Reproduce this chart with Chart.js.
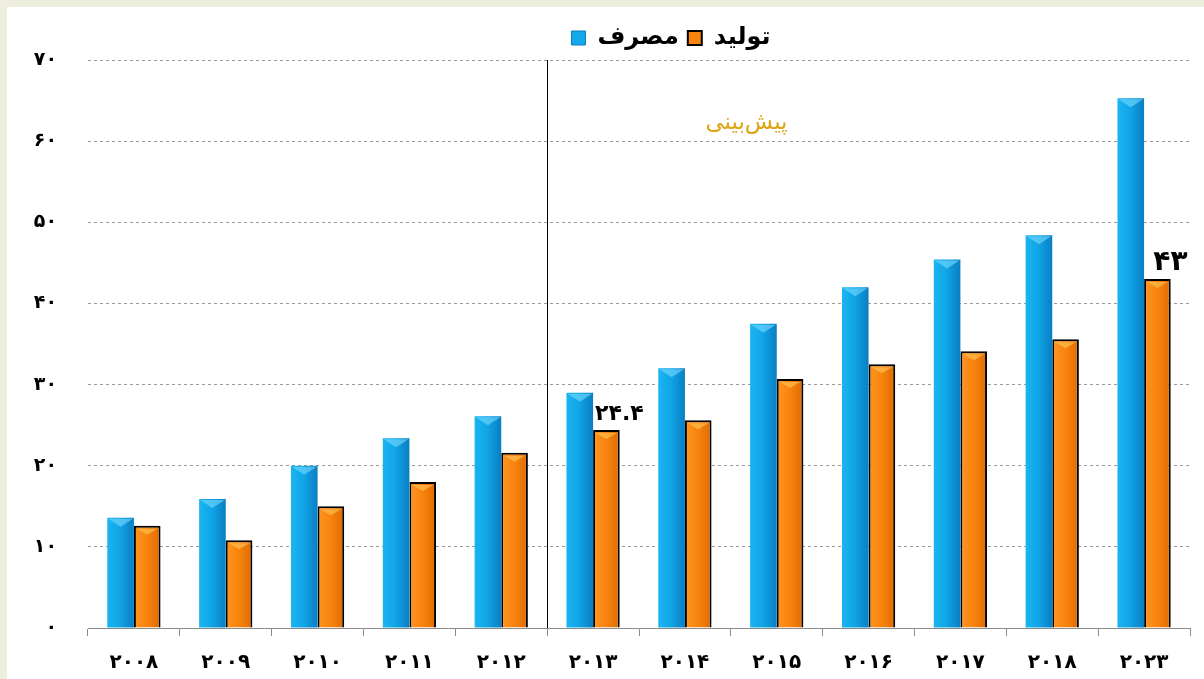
<!DOCTYPE html>
<html><head><meta charset="utf-8">
<script src="https://cdn.jsdelivr.net/npm/chart.js@4.4.0/dist/chart.umd.min.js"></script>
<style>
html,body{margin:0;padding:0;background:#EDEEDC;}
#wrap{position:absolute;left:0;top:0;width:1204px;height:679px;}
</style></head><body>
<div id="wrap"><canvas id="c" width="1204" height="679"></canvas></div>
<script>
const categories = ['۲۰۰۸','۲۰۰۹','۲۰۱۰','۲۰۱۱','۲۰۱۲','۲۰۱۳','۲۰۱۴','۲۰۱۵','۲۰۱۶','۲۰۱۷','۲۰۱۸','۲۰۲۳'];
const consumption = [13.6, 15.9, 20.0, 23.4, 26.1, 29.0, 32.0, 37.5, 42.0, 45.4, 48.4, 65.3];
const production  = [12.6, 10.8, 15.0, 18.0, 21.6, 24.4, 25.6, 30.7, 32.5, 34.1, 35.6, 43.0];
const seriesNames = ['مصرف', 'تولید'];
const yTickLabels = ['۰','۱۰','۲۰','۳۰','۴۰','۵۰','۶۰','۷۰'];
const valueLabelIndex = [5, 11];
const valueLabelText = ['۲۴.۴', '۴۳'];
const valueLabelSize = [22, 28];
const forecastText = 'پیش‌بینی';
const forecastStartIndex = 5;

const FONT = '"DejaVu Sans", sans-serif';
const CAT_PCT = 0.58;

function barSpan(chart, i, ds) {
  const xs = chart.scales.x;
  const c = xs.getPixelForValue(i);
  const cw = xs.width / categories.length;
  const half = cw * CAT_PCT / 2;
  return ds === 0 ? [c - half, c] : [c, c + half];
}
function blueGrad(ctx) {
  const chart = ctx.chart;
  if (!chart.chartArea || ctx.type !== 'data') return '#12A6E6';
  const [a, b] = barSpan(chart, ctx.dataIndex, 0);
  const g = chart.ctx.createLinearGradient(a, 0, b, 0);
  g.addColorStop(0, '#1BB4F0');
  g.addColorStop(0.45, '#10A6E8');
  g.addColorStop(1, '#0A7EC2');
  return g;
}
function orangeGrad(ctx) {
  const chart = ctx.chart;
  if (!chart.chartArea || ctx.type !== 'data') return '#F57F0A';
  const [a, b] = barSpan(chart, ctx.dataIndex, 1);
  const g = chart.ctx.createLinearGradient(a, 0, b, 0);
  g.addColorStop(0, '#FF9420');
  g.addColorStop(0.5, '#F8840E');
  g.addColorStop(1, '#E06A00');
  return g;
}

const framePlugin = {
  id: 'frame',
  beforeDraw(chart) {
    const c = chart.ctx;
    c.save();
    c.fillStyle = '#FFFFFF';
    c.fillRect(7, 7, chart.width - 7, chart.height - 7);
    c.restore();
  }
};
const legendShift = {
  id: 'legendShift',
  afterLayout(chart) {
    const lg = chart.legend;
    if (lg) { lg.left += 32; lg.right += 32; }
  }
};
const decoPlugin = {
  id: 'deco',
  beforeDatasetsDraw(chart) {
    const c = chart.ctx, xs = chart.scales.x, ca = chart.chartArea;
    const x = Math.round((xs.getPixelForValue(forecastStartIndex - 1) + xs.getPixelForValue(forecastStartIndex)) / 2) + 0.5;
    c.save();
    c.strokeStyle = '#000';
    c.lineWidth = 1;
    c.beginPath();
    c.moveTo(x, ca.top);
    c.lineTo(x, ca.bottom);
    c.stroke();
    c.restore();
  },
  afterDatasetsDraw(chart) {
    const c = chart.ctx, xs = chart.scales.x, ys = chart.scales.y;
    c.save();
    // chevron highlights on bar tops
    [0, 1].forEach(d => {
      const meta = chart.getDatasetMeta(d);
      meta.data.forEach(el => {
        const p = el.getProps(['x', 'y', 'width'], true);
        const inset = d === 1 ? 3 : 1;
        c.beginPath();
        c.moveTo(p.x - p.width / 2 + inset, p.y + inset);
        c.lineTo(p.x + p.width / 2 - inset, p.y + inset);
        c.lineTo(p.x, p.y + 9);
        c.closePath();
        c.fillStyle = d === 0 ? 'rgba(120,220,255,0.6)' : 'rgba(255,200,90,0.6)';
        c.fill();
      });
    });
    // value labels
    const meta = chart.getDatasetMeta(1);
    c.fillStyle = '#000';
    c.textAlign = 'center';
    c.textBaseline = 'middle';
    valueLabelIndex.forEach((idx, k) => {
      const el = meta.data[idx];
      const p = el.getProps(['x', 'y'], true);
      c.font = 'bold ' + valueLabelSize[k] + 'px ' + FONT;
      c.fillText(valueLabelText[k], p.x + 13, p.y - 16);
    });
    // forecast annotation
    c.fillStyle = '#DDA514';
    c.font = '23px ' + FONT;
    c.fillText(forecastText, xs.getPixelForValue(6.67), ys.getPixelForValue(62.2));
    c.restore();
  }
};

new Chart(document.getElementById('c'), {
  type: 'bar',
  data: {
    labels: categories,
    datasets: [
      { label: seriesNames[0], data: consumption, backgroundColor: blueGrad, borderWidth: 0 },
      { label: seriesNames[1], data: production, backgroundColor: orangeGrad, borderColor: '#000', borderWidth: 2, borderSkipped: 'bottom' }
    ]
  },
  options: {
    responsive: false,
    animation: false,
    layout: { padding: { top: 17, right: 14, bottom: 0, left: 0 } },
    datasets: { bar: { categoryPercentage: CAT_PCT, barPercentage: 1 } },
    plugins: {
      tooltip: { enabled: false },
      legend: {
        position: 'top',
        fullSize: false,
        labels: {
          padding: 9,
          boxWidth: 14,
          boxHeight: 14,
          color: '#000',
          font: { family: FONT, size: 24, weight: 'bold' },
          generateLabels(chart) {
            return [
              { text: seriesNames[0], fillStyle: '#14A8E8', strokeStyle: '#0B7FC0', lineWidth: 1, datasetIndex: 0, hidden: false },
              { text: seriesNames[1], fillStyle: '#F8840E', strokeStyle: '#000', lineWidth: 2, datasetIndex: 1, hidden: false }
            ];
          }
        }
      }
    },
    scales: {
      x: {
        grid: { offset: true, drawOnChartArea: false, drawTicks: true, tickLength: 8, color: '#8C8C8C' },
        border: { display: true, color: '#8C8C8C', width: 1 },
        ticks: { color: '#000', padding: 15, maxRotation: 0, autoSkip: false, font: { family: FONT, size: 20, weight: 'bold' } },
        afterFit(s) { s.height = 51; }
      },
      y: {
        min: 0, max: 70,
        ticks: {
          stepSize: 10, color: '#000', padding: 31,
          font: { family: FONT, size: 19, weight: 'bold' },
          callback: (v) => yTickLabels[Math.round(v / 10)]
        },
        grid: { drawTicks: false, color: (ctx) => ctx.tick && ctx.tick.value === 0 ? 'rgba(0,0,0,0)' : '#9A9A9A', lineWidth: 1 },
        border: { display: false, dash: [3, 3] },
        afterFit(s) { s.width = 88; }
      }
    }
  },
  plugins: [framePlugin, legendShift, decoPlugin]
});
</script>
</body></html>
